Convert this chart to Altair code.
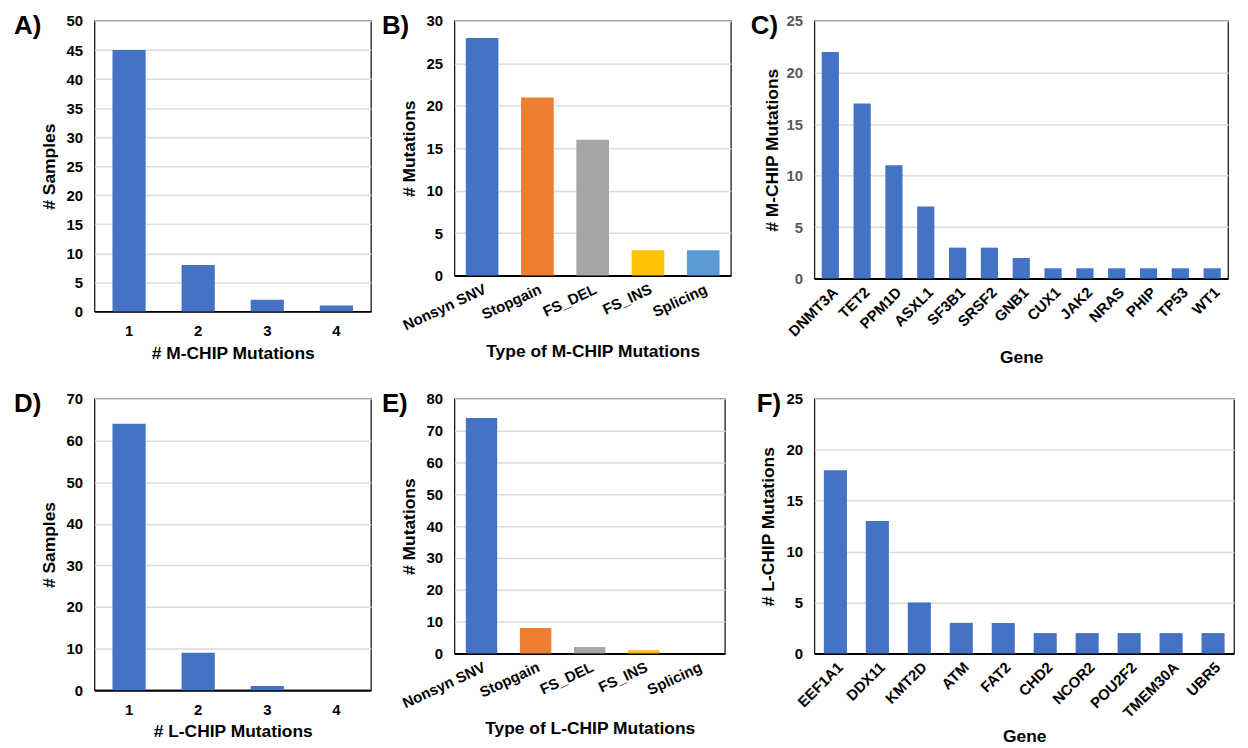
import altair as alt
import pandas as pd

FONT = "Liberation Sans"

# ---- data ----
a_cats = ["1", "2", "3", "4"]
a_vals = [45, 8, 2, 1]

b_cats = ["Nonsyn SNV", "Stopgain", "FS_DEL", "FS_INS", "Splicing"]
b_vals = [28, 21, 16, 3, 3]

c_genes = ["DNMT3A", "TET2", "PPM1D", "ASXL1", "SF3B1", "SRSF2", "GNB1",
           "CUX1", "JAK2", "NRAS", "PHIP", "TP53", "WT1"]
c_vals = [22, 17, 11, 7, 3, 3, 2, 1, 1, 1, 1, 1, 1]

d_cats = ["1", "2", "3", "4"]
d_vals = [64, 9, 1, 0]

e_cats = ["Nonsyn SNV", "Stopgain", "FS_DEL", "FS_INS", "Splicing"]
e_vals = [74, 8, 2, 1, 0]

f_genes = ["EEF1A1", "DDX11", "KMT2D", "ATM", "FAT2", "CHD2", "NCOR2",
           "POU2F2", "TMEM30A", "UBR5"]
f_vals = [18, 13, 5, 3, 3, 2, 2, 2, 2, 2]

BLUE = "#4472C4"
type_colors = ["#4472C4", "#ED7D31", "#A5A5A5", "#FFC000", "#5B9BD5"]


def panel(letter, cats, vals, xtitle, ytitle, ymax, ystep, width, height,
          label_angle, band_frac, dx, colors=None, ylabel_color="black",
          xlabel_size=15, title_pad=6, label_pad=12, y_title_pad=8):
    df = pd.DataFrame({"cat": cats, "val": vals})
    if colors:
        color = alt.Color("cat:N", scale=alt.Scale(domain=cats, range=colors), legend=None)
    else:
        color = alt.value(BLUE)
    pin = 1 - band_frac
    return alt.Chart(df).mark_bar().encode(
        x=alt.X("cat:N", sort=cats,
                scale=alt.Scale(paddingInner=pin, paddingOuter=pin / 2),
                axis=alt.Axis(title=xtitle, labelAngle=label_angle,
                              labelFontSize=xlabel_size, titlePadding=title_pad,
                              labelPadding=label_pad)),
        y=alt.Y("val:Q", scale=alt.Scale(domain=[0, ymax], nice=False),
                axis=alt.Axis(title=ytitle, values=list(range(0, ymax + 1, ystep)),
                              labelColor=ylabel_color, titlePadding=y_title_pad)),
        color=color,
    ).properties(
        width=width, height=height,
        title=alt.TitleParams(letter, anchor="start", frame="group", dx=dx, dy=0,
                              fontSize=26, font=FONT, fontWeight="bold",
                              baseline="alphabetic", offset=-46, color="black"),
    )


A = panel("A)", a_cats, a_vals, "# M-CHIP Mutations", "# Samples", 50, 5,
          278, 292, 0, 0.48, dx=-81)
B = panel("B)", b_cats, b_vals, "Type of M-CHIP Mutations", "# Mutations", 30, 5,
          278, 256, -25, 0.59, dx=-73, colors=type_colors, label_pad=6, title_pad=10)
C = panel("C)", c_genes, c_vals, "Gene", "# M-CHIP Mutations", 25, 5,
          416, 259, -45, 0.54, dx=-64, ylabel_color="#595959", label_pad=6,
          title_pad=10, y_title_pad=4)
D = panel("D)", d_cats, d_vals, "# L-CHIP Mutations", "# Samples", 70, 10,
          278, 293, 0, 0.48, dx=-81)
E = panel("E)", e_cats, e_vals, "Type of L-CHIP Mutations", "# Mutations", 80, 10,
          272, 256, -25, 0.58, dx=-73, colors=type_colors, label_pad=6, title_pad=9)
F = panel("F)", f_genes, f_vals, "Gene", "# L-CHIP Mutations", 25, 5,
          422, 256, -45, 0.55, dx=-58, label_pad=6, title_pad=7)

chart = alt.concat(
    A, B, C, D, E, F, columns=3,
    spacing={"row": 88, "column": 84},
    bounds="flush",
    align={"row": "each", "column": "none"},
).properties(
    padding={"left": 5, "top": 2, "right": 5, "bottom": 0},
    background="white",
).configure_view(
    stroke="#1a1a1a", strokeWidth=1.3,
).configure_axis(
    labelFont=FONT, titleFont=FONT, labelFontWeight="bold", titleFontWeight="bold",
    labelFontSize=15, titleFontSize=17.5, labelColor="black", titleColor="black",
    ticks=False, gridColor="#dcdcdc", gridWidth=1.5,
).configure_axisX(
    grid=False, domainColor="black", domainWidth=2,
).configure_axisY(
    domain=False, labelPadding=12,
)

chart.save("out.html", embed_options={"renderer": "svg", "actions": False})
